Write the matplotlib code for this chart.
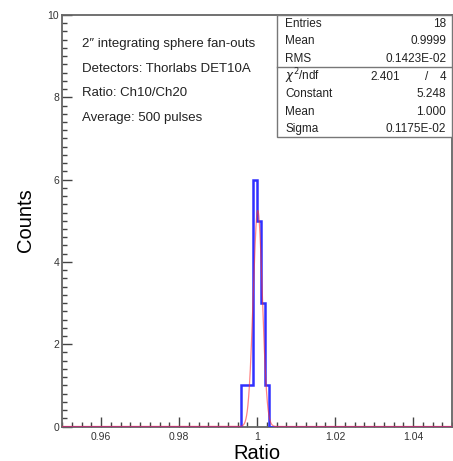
import numpy as np
import matplotlib.pyplot as plt
from matplotlib.patches import Rectangle
from matplotlib.ticker import MultipleLocator

plt.rcParams['font.family'] = ['Liberation Sans', 'DejaVu Sans']

# histogram: 100 bins on [0.95, 1.05], only the non-empty ones listed
bin_lo = [0.996, 0.997, 0.998, 0.999, 1.000, 1.001, 1.002]
counts = [1, 1, 1, 6, 5, 3, 1]
bin_w = 0.001
x_min, x_max = 0.95, 1.05

# gaussian fit
g_const = 5.248
g_mean = 1.000
g_sigma = 0.1175e-2

stats_rows = [("Entries", "18"), ("Mean", "0.9999"), ("RMS", "0.1423E-02")]
fit_rows = [("Constant", "5.248"), ("Mean", "1.000"), ("Sigma", "0.1175E-02")]
chi2, ndf = "2.401", "4"

info_lines = ["2\u2033 integrating sphere fan-outs",
              "Detectors: Thorlabs DET10A",
              "Ratio: Ch10/Ch20",
              "Average: 500 pulses"]

W, H = 453, 461
fig = plt.figure(figsize=(W / 100, H / 100), dpi=100)
ax = fig.add_axes([62 / W, 1 - 426.5 / H, (452 - 62) / W, (426.5 - 15) / H])

# step outline of the histogram over full range
edges = np.round(np.arange(x_min, x_max + bin_w / 2, bin_w), 6)
vals = np.zeros(len(edges) - 1)
for lo, c in zip(bin_lo, counts):
    vals[int(round((lo - x_min) / bin_w))] = c
ax.stairs(vals, edges, color='#3030ff', lw=1.8, zorder=3)

xf = np.linspace(x_min, x_max, 4000)
yf = g_const * np.exp(-0.5 * ((xf - (g_mean + 0.0002)) / g_sigma) ** 2)
ax.plot(xf, yf, color='#ff3030', lw=0.9, alpha=0.6, zorder=4)

ax.set_xlim(x_min, x_max)
ax.set_ylim(0, 10)
ax.xaxis.set_major_locator(MultipleLocator(0.02))
ax.xaxis.set_minor_locator(MultipleLocator(0.0025))
ax.yaxis.set_major_locator(MultipleLocator(2))
ax.yaxis.set_minor_locator(MultipleLocator(0.2))
ax.set_xticks([0.96, 0.98, 1.0, 1.02, 1.04])
ax.set_xticklabels(["0.96", "0.98", "1", "1.02", "1.04"])
ax.tick_params(which='both', direction='in', colors='#444444', labelcolor='#333333',
               labelsize=7.5, top=False, right=False)
ax.tick_params(which='major', length=7, width=1)
ax.tick_params(which='minor', length=3.5, width=1)
ax.tick_params(axis='x', pad=4)
ax.tick_params(axis='y', pad=2)
for s in ax.spines.values():
    s.set_color('#666666')
    s.set_linewidth(1.3)

fig.text(257 / W, 1 - 453 / H, "Ratio", ha='center', va='center', fontsize=14.5)
fig.text(26 / W, 1 - 220 / H, "Counts", ha='center', va='center', fontsize=14.5, rotation=90)

for i, line in enumerate(info_lines):
    fig.text(82 / W, 1 - (44 + 24.5 * i) / H, line, ha='left', va='center', fontsize=9.5,
             color='#222222')

# stats box
bx0, bx1, by0, by1 = 277, 452, 15, 137
fig.patches.append(Rectangle((bx0 / W, 1 - by1 / H), (bx1 - bx0) / W, (by1 - by0) / H,
                             transform=fig.transFigure, facecolor='white',
                             edgecolor='#777777', lw=1, zorder=5))
fig.lines.append(plt.Line2D([bx0 / W, bx1 / W], [1 - 67 / H, 1 - 67 / H],
                            transform=fig.transFigure, color='#777777', lw=1, zorder=6))
row_y = [24, 41.5, 59, 76.5, 94, 111.5, 129]
rows = stats_rows + [(None, None)] + fit_rows
for y, (lab, val) in zip(row_y, rows):
    if lab is None:
        fig.text(285 / W, 1 - y / H, r"$\chi^2$/ndf", ha='left', va='center', fontsize=8.5,
                 color='#222222', zorder=7)
        fig.text(400 / W, 1 - y / H, chi2, ha='right', va='center', fontsize=8.5,
                 color='#222222', zorder=7)
        fig.text(427 / W, 1 - y / H, "/", ha='center', va='center', fontsize=8.5,
                 color='#222222', zorder=7)
        fig.text(446 / W, 1 - y / H, ndf, ha='right', va='center', fontsize=8.5,
                 color='#222222', zorder=7)
        continue
    fig.text(285 / W, 1 - y / H, lab, ha='left', va='center', fontsize=8.5,
             color='#222222', zorder=7)
    fig.text(446 / W, 1 - y / H, val, ha='right', va='center', fontsize=8.5,
             color='#222222', zorder=7)

fig.savefig("out.png", dpi=100)
